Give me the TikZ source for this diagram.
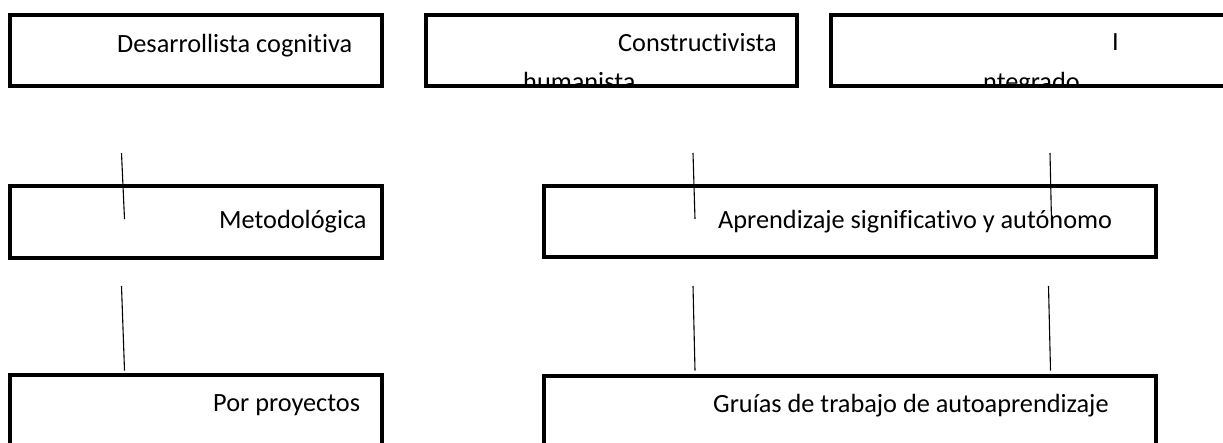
\documentclass[tikz,border=0pt]{standalone}
\usepackage{fontspec}
\setmainfont{Carlito}[Ligatures=NoCommon]
\usepackage{tikz}
\usetikzlibrary{positioning}

\begin{document}
\begin{tikzpicture}[x=1pt, y=-1pt,
    box/.style={draw, line width=4pt, rectangle, inner sep=0pt, outer sep=0pt, anchor=north west},
    txt/.style={inner sep=0pt, anchor=base west, font=\fontsize{26.3}{39}\selectfont},
    tick/.style={line width=1.1pt}]

  \useasboundingbox (0,0) rectangle (1223,442);

  % first row
  \node [box, minimum width=372pt, minimum height=71pt] (desa) at (10,14.5) {};
  \node [box, minimum width=371pt, minimum height=71pt] (cons) at (426,14.5) {};
  \node [box, minimum width=420pt, minimum height=71pt] (inte) at (831,14.5) {};

  % second row
  \node [box, minimum width=371.5pt, minimum height=72pt] (meto) at (10,185.5) {};
  \node [box, minimum width=612pt, minimum height=71pt] (apre) at (544,186) {};

  % third row
  \node [box, minimum width=371.5pt, minimum height=90pt] (proy) at (10,375) {};
  \node [box, minimum width=612pt, minimum height=90pt] (guia) at (544,376) {};

  \node [txt] (tdesa) at (117,52) {Desarrollista cognitiva};
  \node [txt] (tcons) at (618,51.5) {Constructivista};
  \node [txt] (tinte) at (1112,50.5) {I};
  \begin{scope}
    \clip (cons.north west) rectangle (cons.south east);
    \node [txt] (thuma) at (523,90) {humanista};
  \end{scope}
  \begin{scope}
    \clip (inte.north west) rectangle (inte.south east);
    \node [txt] (tnteg) at (983,90) {ntegrado};
  \end{scope}
  \node [txt] (tmeto) at (219,228) {Metodológica};
  \node [txt] (tapre) at (718,228) {Aprendizaje significativo y autónomo};
  \node [txt] (tproy) at (213,411.5) {Por proyectos};
  \node [txt] (tguia) at (713,412) {Gruías de trabajo de autoaprendizaje};

  % loose lines
  \coordinate (a1) at (121.5,153);  \coordinate (a2) at (124.5,219);
  \coordinate (b1) at (121.5,286);  \coordinate (b2) at (124.5,370.5);
  \coordinate (c1) at (693,153);    \coordinate (c2) at (695,219);
  \coordinate (d1) at (1050,153);   \coordinate (d2) at (1051.5,221);
  \coordinate (e1) at (693,286);    \coordinate (e2) at (695,370.5);
  \coordinate (f1) at (1048.5,286); \coordinate (f2) at (1050.5,370.5);

  \draw [tick] (a1) -- (a2);
  \draw [tick] (b1) -- (b2);
  \draw [tick] (c1) -- (c2);
  \draw [tick] (d1) -- (d2);
  \draw [tick] (e1) -- (e2);
  \draw [tick] (f1) -- (f2);

\end{tikzpicture}
\end{document}
